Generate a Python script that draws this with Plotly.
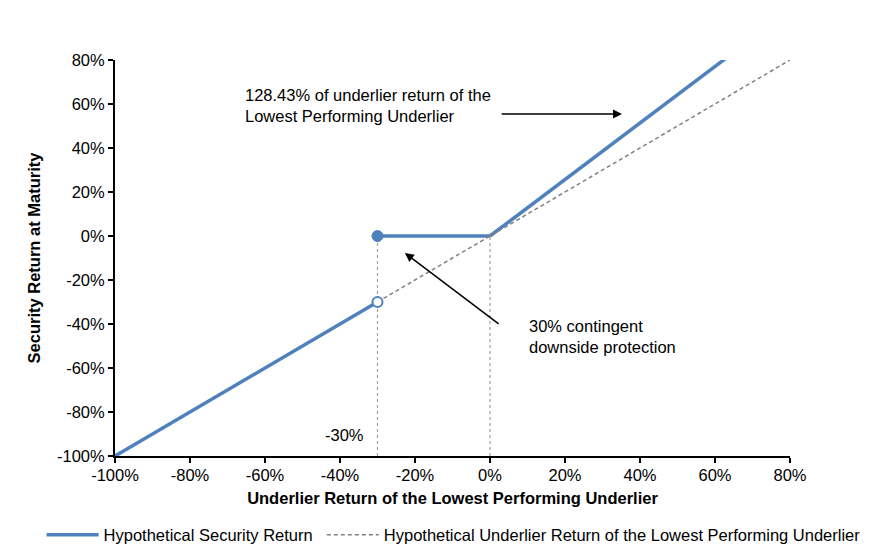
"""Payoff diagram: hypothetical security return vs lowest performing underlier"""
import plotly.graph_objects as go

# data (percent)
participation = 128.43
barrier = -30
down_x = [-100, -30]
down_y = [-100, -30]
flat_x = [-30, 0]
flat_y = [0, 0]
up_x = [0, 80]
up_y = [v * participation / 100 for v in up_x]
under_x = [-30, 80]
under_y = [-30, 80]
ticks = [-100, -80, -60, -40, -20, 0, 20, 40, 60, 80]
tick_labels = [f"{t}%" for t in ticks]

blue = "#4f81bd"
grey = "#808080"
fs = 16.5

fig = go.Figure()
fig.add_trace(go.Scatter(x=down_x, y=down_y, mode="lines", line=dict(color=blue, width=3.5),
                         name="Hypothetical Security Return", legend="legend"))
fig.add_trace(go.Scatter(x=flat_x + [None] + up_x, y=flat_y + [None] + up_y, mode="lines",
                         line=dict(color=blue, width=3.5), showlegend=False))
fig.add_trace(go.Scatter(x=under_x, y=under_y, mode="lines",
                         line=dict(color=grey, width=1.5, dash="4px,3px"), legend="legend2",
                         name="Hypothetical Underlier Return of the Lowest Performing Underlier"))
# vertical guides
for gx in [barrier, 0]:
    fig.add_trace(go.Scatter(x=[gx, gx], y=[-100, 0], mode="lines",
                             line=dict(color="#a0a0a0", width=1.2, dash="dot"), showlegend=False))
fig.add_trace(go.Scatter(x=[barrier], y=[0], mode="markers", showlegend=False,
                         marker=dict(color=blue, size=11, line=dict(color=blue, width=1))))
fig.add_trace(go.Scatter(x=[barrier], y=[barrier], mode="markers", showlegend=False,
                         marker=dict(color="white", size=10, line=dict(color=blue, width=2))))

# annotations
fig.add_annotation(x=35.2, y=55.5, ax=2.7, ay=55.5, axref="x", ayref="y", text="", showarrow=True,
                   arrowhead=2, arrowsize=1.2, arrowwidth=1.5, arrowcolor="black")
fig.add_annotation(x=-65.8, y=59.5, xanchor="left", align="left", showarrow=False,
                   text="128.43% of underlier return of the<br>Lowest Performing Underlier")
fig.add_annotation(x=-22.7, y=-7.7, ax=2.7, ay=-40.5, axref="x", ayref="y", text="", showarrow=True,
                   arrowhead=2, arrowsize=1.2, arrowwidth=1.5, arrowcolor="black")
fig.add_annotation(x=9.9, y=-45.5, xanchor="left", align="left", showarrow=False,
                   text="30% contingent<br>downside protection")
fig.add_annotation(x=-38.7, y=-90.5, showarrow=False, text="-30%")

axis = dict(tickvals=ticks, ticktext=tick_labels, showgrid=False, zeroline=False, showline=True,
            linecolor="black", linewidth=2, ticks="outside", ticklen=5, tickcolor="black",
            tickwidth=1.5, tickfont=dict(size=fs, color="black"), automargin=False)
leg = dict(orientation="h", xref="container", yref="container", xanchor="left",
           y=0.0453, yanchor="middle", font=dict(size=fs), bgcolor="rgba(0,0,0,0)", itemwidth=52)
# page body has an 8px margin, so the figure is 8px smaller than the window
fig.update_layout(
    width=884, height=552,
    margin=dict(l=107, r=102, t=52, b=104),
    paper_bgcolor="white", plot_bgcolor="white",
    font=dict(family="Liberation Sans, Arial", color="black", size=fs),
    xaxis=dict(axis, range=[-100, 80], ticklabelstandoff=-2,
               title=dict(text="<b>Underlier Return of the Lowest Performing Underlier</b>",
                          font=dict(size=fs), standoff=10)),
    yaxis=dict(axis, range=[-100, 80],
               title=dict(text="<b>Security Return at Maturity</b>", font=dict(size=fs), standoff=12)),
    showlegend=True,
    legend=dict(leg, x=0.038),
    legend2=dict(leg, x=0.355),
)
fig.write_html("out.html")
